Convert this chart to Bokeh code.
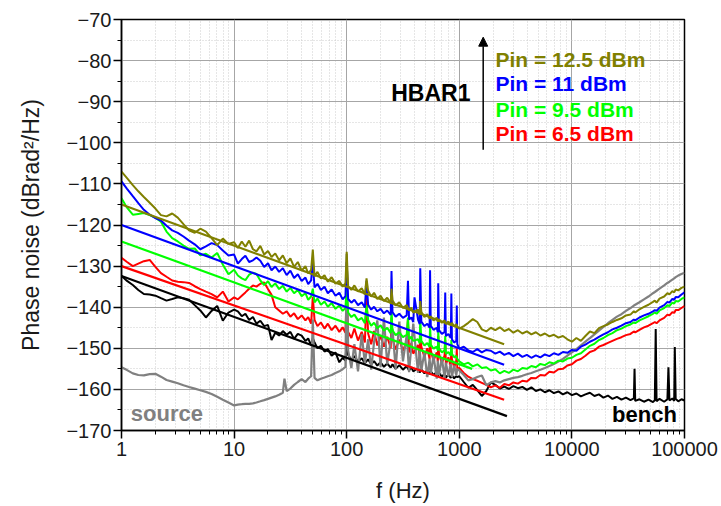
from bokeh.plotting import figure
from bokeh.models import FixedTicker, NumeralTickFormatter, Arrow, NormalHead, Label
from bokeh.embed import file_html
from bokeh.resources import INLINE

# ---------------- data ----------------
# shared frequency grid (Hz)
F = ([1, 1.12, 1.26, 1.41, 1.58, 1.78, 2, 2.24, 2.51, 2.82, 3.16, 3.55, 3.98, 4.47, 5.01, 5.62, 6.31, 7.08, 7.94, 8.91]
     + [10, 10.8, 11.7, 12.6, 13.6, 14.7, 15.8, 17.1, 18.5, 20, 21.5, 23.2, 25.1, 27.1, 29.3, 31.6, 34.1, 36.8, 39.8, 43,
        45.5, 48.3, 51.8, 55, 59, 63.5, 68, 73.5, 79.5, 86, 92, 97.5]
     + [103, 110, 117, 126, 136, 145, 155, 165, 175, 187, 200, 214, 229, 246, 255, 272, 293, 316, 341, 358,
        375, 390, 430, 445, 460, 490, 520, 545, 558, 590, 630, 645, 660, 700, 740, 760, 800, 840, 860, 900, 940, 960]
     + [1000, 1096, 1202, 1318, 1445, 1585, 1738, 1905, 2089, 2291, 2512, 2754, 3020, 3311, 3631, 3981, 4365, 4786,
        5248, 5754, 6310, 6918, 7586, 8318, 9120, 10000, 10965, 12023, 13183, 14454, 15849, 17378, 19055, 20893,
        22909, 25119, 27542, 30200, 33113, 35500, 36500, 39811, 43652, 47863, 52481, 54500, 56500, 60000, 66000,
        70500, 73500, 78000, 81000, 83500, 88000, 94000, 100000])

# Pin = 12.5 dBm (olive)
PIN125 = ([-107.0, -108.6, -110.3, -111.8, -113.2, -114.6, -116.0, -117.6, -117.9, -117.2, -118.2, -119.8, -121.3,
           -121.9, -120.9, -121.6, -123.2, -124.9, -123.3, -124.6]
          + [-124.2, -125.6, -124.0, -125.3, -123.8, -125.9, -126.4, -125.1, -127.2, -126.3, -127.8, -126.9, -128.6,
             -127.4, -129.3, -128.1, -130.2, -129.0, -131.1, -130.0, -131.8, -130.9, -132.5, -131.4, -133.0, -132.2,
             -133.8, -132.7, -134.3, -133.6, -135.0, -134.2]
          + [-134.9, -135.8, -134.7, -136.2, -135.4, -136.9, -136.0, -137.4, -136.5, -138.0, -137.2, -138.5, -137.7,
             -139.0, -138.3, -139.6, -138.8, -140.2, -139.5, -140.8, -140.1, -141.3, -140.6, -141.9, -141.2, -142.4,
             -141.7, -142.8, -142.2, -143.2, -142.6, -143.5, -142.9, -143.8, -143.2, -144.1, -143.5, -144.4, -143.8,
             -144.7, -144.1, -144.8]
          + [-145.2, -144.6, -143.8, -142.9, -143.6, -145.4, -145.9, -145.0, -145.6, -144.9, -145.8, -145.3, -146.2,
             -145.6, -146.4, -145.9, -146.6, -146.1, -146.9, -146.4, -147.1, -146.7, -147.4, -147.0, -147.8, -148.4,
             -147.5, -148.2, -147.0, -145.9, -146.3, -145.1, -144.6, -144.2, -143.6, -143.1, -142.7, -142.0, -141.8,
             -141.0, -141.3, -140.5, -139.9, -139.4, -138.7, -138.4, -138.9, -137.9, -137.4, -136.6, -136.9, -136.1,
             -136.4, -135.7, -135.9, -135.3, -135.0])
PIN125_SPK_F = [50, 100, 150, 250, 450]
PIN125_SPK_V = [-126.0, -126.5, -133.0, -135.5, -138.5]

# Pin = 11 dBm (blue)
PIN11 = ([-109.4, -111.2, -113.0, -114.7, -116.3, -117.5, -118.3, -118.9, -120.2, -121.3, -121.9, -122.8, -123.8,
          -124.7, -125.9, -125.2, -124.4, -124.9, -126.2, -127.4]
         + [-127.2, -129.4, -128.3, -127.5, -129.0, -128.6, -127.9, -128.7, -130.2, -129.3, -131.0, -130.1, -131.4,
            -130.5, -132.2, -131.1, -132.9, -132.0, -133.6, -132.8, -134.4, -133.5, -135.2, -134.3, -135.8, -135.0,
            -136.6, -135.7, -137.2, -136.5, -138.1, -137.3]
         + [-138.0, -138.9, -138.2, -139.5, -138.8, -140.1, -139.4, -140.6, -139.9, -141.0, -140.4, -141.5, -140.8,
            -141.9, -141.2, -142.3, -141.6, -142.6, -142.0, -143.0, -142.5, -143.6, -143.0, -144.1, -143.5, -144.6,
            -144.0, -145.0, -144.5, -145.5, -145.0, -146.1, -145.6, -146.5, -146.0, -147.0, -146.5, -147.5, -147.8,
            -148.6, -148.2, -149.0]
         + [-150.1, -149.6, -150.5, -150.9, -150.2, -151.0, -150.4, -150.6, -151.3, -150.8, -151.6, -151.1, -151.9,
            -151.3, -152.1, -151.6, -152.3, -151.7, -152.2, -151.5, -151.9, -151.2, -151.6, -150.9, -151.1, -150.4,
            -150.6, -149.6, -149.1, -148.4, -147.9, -147.2, -146.6, -146.1, -145.4, -145.0, -144.5, -143.9, -143.6,
            -143.0, -143.2, -142.5, -142.0, -141.6, -141.0, -140.7, -140.9, -140.1, -139.5, -138.7, -138.9, -138.0,
            -138.2, -137.5, -137.6, -136.9, -136.4])
PIN11_SPK_F = [50, 100, 150, 250, 350, 400, 450, 550, 650, 750, 850, 950]
PIN11_SPK_V = [-129.0, -129.0, -133.6, -131.2, -133.6, -137.6, -130.5, -131.0, -134.2, -136.4, -136.7, -139.6]

# Pin = 9.5 dBm (green)
PIN95 = ([-113.5, -115.8, -117.5, -117.3, -117.1, -117.6, -118.2, -119.2, -121.6, -123.2, -124.0, -125.0, -125.8,
          -125.7, -127.4, -127.0, -127.9, -126.8, -129.6, -132.0]
         + [-130.9, -132.3, -133.0, -133.4, -132.1, -131.6, -131.9, -133.5, -134.6, -133.7, -135.1, -134.2, -135.6,
            -134.8, -136.2, -135.3, -136.6, -135.8, -137.3, -136.6, -138.2, -137.4, -138.8, -137.9, -139.4, -138.6,
            -139.9, -139.0, -140.4, -139.6, -140.9, -140.2]
         + [-141.3, -142.4, -141.8, -143.2, -142.6, -143.9, -143.1, -144.5, -143.8, -145.1, -144.4, -145.7, -145.0,
            -146.3, -145.6, -146.8, -146.1, -147.3, -146.7, -147.8, -147.2, -148.2, -147.8, -148.8, -148.2, -149.3,
            -148.7, -149.7, -149.1, -150.1, -149.6, -150.6, -150.0, -151.0, -150.5, -151.4, -150.9, -151.8, -151.3,
            -152.2, -151.8, -152.6]
         + [-153.2, -153.9, -153.5, -154.4, -153.9, -154.8, -154.6, -155.4, -155.1, -156.1, -155.5, -156.0, -155.2,
            -155.6, -154.8, -155.0, -154.3, -154.6, -153.8, -154.1, -153.4, -153.7, -153.0, -153.2, -152.5, -152.3,
            -151.6, -151.2, -150.3, -149.4, -148.9, -148.0, -147.5, -146.8, -146.3, -145.6, -145.2, -144.6, -144.2,
            -143.7, -143.9, -143.2, -142.7, -142.2, -141.6, -141.3, -141.6, -140.8, -140.2, -139.5, -139.7, -138.9,
            -139.1, -138.5, -138.6, -138.0, -137.6])
PIN95_SPK_F = [50, 100, 150, 250, 350, 450, 550, 650, 750, 850]
PIN95_SPK_V = [-135.5, -134.5, -139.5, -140.5, -142.5, -142.5, -144.0, -145.5, -147.0, -148.0]

# Pin = 6.5 dBm (red)
PIN65 = ([-128.0, -129.0, -130.0, -129.4, -128.8, -128.5, -130.2, -131.7, -132.6, -133.5, -133.8, -133.9, -134.1,
          -134.9, -135.6, -136.2, -136.8, -137.6, -136.2, -138.6]
         + [-137.6, -138.1, -137.2, -136.4, -135.5, -134.7, -135.0, -134.3, -134.0, -135.6, -137.0, -140.0, -140.8,
            -141.6, -141.0, -142.3, -141.5, -142.9, -142.0, -143.2, -142.4, -144.0, -143.1, -144.6, -143.7, -145.2,
            -144.0, -145.6, -144.5, -146.0, -144.9, -146.2]
         + [-146.0, -147.5, -145.2, -148.1, -146.0, -148.6, -146.4, -149.0, -145.8, -149.3, -146.9, -149.6, -147.2,
            -150.0, -147.6, -150.3, -147.9, -150.6, -148.2, -151.0, -148.7, -151.3, -149.2, -151.8, -149.6, -152.1,
            -150.0, -152.6, -150.5, -153.0, -151.0, -153.3, -151.3, -153.7, -151.7, -154.0, -152.2, -154.4, -152.6,
            -154.7, -153.0, -155.0]
         + [-154.8, -156.0, -156.9, -157.5, -157.9, -158.4, -158.9, -159.5, -159.0, -159.6, -158.7, -159.0, -158.3,
            -158.6, -157.9, -158.1, -157.2, -157.3, -156.5, -156.6, -155.7, -155.9, -155.1, -155.0, -154.2, -153.9,
            -153.0, -152.6, -151.8, -150.9, -150.5, -149.6, -149.2, -148.7, -148.2, -147.7, -147.3, -146.8, -146.5,
            -145.9, -146.1, -145.5, -144.9, -144.5, -143.9, -143.6, -143.9, -143.2, -142.6, -141.8, -142.0, -141.2,
            -141.4, -140.7, -140.7, -140.2, -139.7])
PIN65_SPK_F = [50, 100, 150, 250, 350, 450, 550, 650, 750, 850, 950]
PIN65_SPK_V = [-137.5, -136.5, -137.0, -142.5, -142.9, -145.7, -146.5, -147.0, -148.0, -149.0, -150.0]

# bench (black)
BENCH = ([-132.4, -133.6, -134.6, -135.8, -136.8, -136.9, -137.2, -137.8, -138.4, -138.0, -137.6, -137.8, -138.2,
          -139.5, -140.8, -142.5, -140.9, -139.7, -143.3, -141.3]
         + [-140.6, -141.0, -142.2, -141.6, -143.1, -142.4, -144.0, -143.3, -144.6, -144.3, -148.0, -146.2, -146.9,
            -145.8, -146.7, -146.0, -147.7, -146.5, -146.9, -148.2, -147.6, -149.3, -148.6, -150.0, -149.4, -150.8,
            -150.2, -151.8, -151.0, -153.4, -152.3, -153.0]
         + [-151.6, -152.8, -151.9, -153.3, -152.4, -153.6, -152.7, -153.9, -153.1, -154.2, -153.4, -154.5, -153.7,
            -154.7, -153.9, -155.0, -154.1, -155.2, -154.3, -155.4, -154.6, -155.6, -154.8, -155.9, -155.1, -156.1,
            -155.3, -156.3, -155.6, -156.5, -155.8, -156.7, -156.0, -156.9, -156.2, -157.1, -156.4, -157.2, -156.6,
            -157.3, -156.8, -157.0]
         + [-156.8, -158.2, -159.6, -158.9, -160.2, -161.6, -160.4, -158.3, -158.9, -159.8, -159.3, -159.9, -159.2,
            -159.7, -159.4, -160.1, -159.5, -160.4, -160.0, -160.7, -160.2, -160.9, -160.5, -161.2, -160.7, -161.4,
            -161.0, -161.7, -161.2, -160.8, -161.6, -161.2, -162.0, -161.5, -162.3, -161.8, -162.5, -162.0, -162.6,
            -162.2, -162.8, -162.4, -163.0, -162.5, -163.1, -162.6, -162.9, -162.3, -163.0, -162.4, -162.7, -162.2,
            -162.8, -162.3, -162.9, -162.4, -162.7])
BENCH_SPK_F = [50, 100, 36000, 55500, 72000, 82000]
BENCH_SPK_V = [-147.5, -148.0, -155.0, -145.3, -154.6, -149.7]

# source (gray)
SOURCE = ([-154.6, -155.3, -156.1, -156.5, -156.6, -156.3, -156.2, -156.9, -157.7, -158.1, -158.5, -159.0, -159.4,
           -159.8, -160.2, -160.6, -161.1, -161.8, -162.5, -163.2]
          + [-163.9, -163.7, -163.6, -163.5, -163.5, -163.4, -163.2, -162.9, -162.6, -162.3, -162.0, -161.7, -161.3,
             -160.8, -160.4, -159.8, -158.9, -158.2, -157.5, -158.2, -157.4, -156.8, -157.2, -157.8, -157.4, -157.1,
             -156.8, -156.5, -156.0, -155.6, -155.1, -154.5]
          + [-150.5, -154.8, -149.0, -155.6, -146.5, -153.8, -147.8, -155.2, -148.5, -143.2, -154.6, -142.5, -153.9,
             -148.0, -145.2, -155.0, -143.5, -153.2, -146.8, -155.8, -149.5, -144.0, -156.0, -150.2, -155.4, -151.0,
             -157.0, -152.5, -156.2, -151.8, -157.4, -153.0, -156.5, -152.4, -157.2, -153.5, -156.8, -153.8, -157.0,
             -154.2, -156.5, -155.0]
          + [-155.4, -156.5, -157.8, -157.5, -157.0, -156.6, -159.0, -158.3, -158.0, -158.3, -157.8, -157.5, -157.2,
             -157.0, -156.7, -156.3, -156.0, -155.6, -155.2, -154.8, -154.3, -153.8, -153.2, -152.6, -151.8, -151.0,
             -150.2, -149.3, -148.4, -147.5, -146.6, -145.7, -144.8, -143.9, -143.1, -142.3, -141.7, -140.9, -140.2,
             -139.6, -139.4, -138.8, -138.1, -137.4, -136.6, -136.3, -136.0, -135.5, -134.7, -134.1, -133.8, -133.3,
             -133.0, -132.7, -132.3, -131.9, -131.6])
SOURCE_SPK_F = [28, 50, 100]
SOURCE_SPK_V = [-157.4, -143.0, -127.0]

# 1/f fit lines: [start f, end f], [start dB, end dB]
FIT125_F, FIT125_V = [1, 2500], [-115.0, -149.0]
FIT11_F, FIT11_V = [1, 2500], [-120.0, -154.0]
FIT95_F, FIT95_V = [1, 1300], [-124.0, -155.0]
FIT65_F, FIT65_V = [1, 2500], [-130.0, -162.5]
FITB_F, FITB_V = [1, 2650], [-132.4, -166.5]

X_TICKS = [1, 10, 100, 1000, 10000, 100000]
Y_TICKS = [-170, -160, -150, -140, -130, -120, -110, -100, -90, -80, -70]
Y_MINOR = [-165, -155, -145, -135, -125, -115, -105, -95, -85, -75]

for arr in (PIN125, PIN11, PIN95, PIN65, BENCH, SOURCE):
    assert len(arr) == len(F), (len(arr), len(F))


def merged(base, spk_f, spk_v):
    pts = sorted(list(zip(F, base)) + list(zip(spk_f, spk_v)))
    return [a for a, _ in pts], [b for _, b in pts]


# ---------------- figure ----------------
FONT = "Liberation Sans"
p = figure(width=718, height=505, x_axis_type="log", x_range=(1, 100000), y_range=(-170, -70),
           output_backend="svg", toolbar_location=None,
           min_border_left=121, min_border_right=34, min_border_top=19, min_border_bottom=73)
p.background_fill_color = "white"
p.border_fill_color = "white"
p.outline_line_color = "black"
p.outline_line_width = 1.5

x_minor = [m * d for d in X_TICKS[:-1] for m in range(2, 10)]
xt = FixedTicker(ticks=X_TICKS, minor_ticks=x_minor)
yt = FixedTicker(ticks=Y_TICKS, minor_ticks=Y_MINOR)
p.xaxis.ticker = xt
p.yaxis.ticker = yt
p.xgrid.ticker = xt
p.ygrid.ticker = yt
p.xaxis.formatter = NumeralTickFormatter(format="0")

p.grid.grid_line_color = "#a6a6a6"
p.grid.grid_line_width = 1
p.grid.minor_grid_line_color = "#cccccc"
p.grid.minor_grid_line_dash = "1 2"
p.grid.minor_grid_line_width = 1

for ax in (p.xaxis[0], p.yaxis[0]):
    ax.axis_line_color = "black"
    ax.axis_line_width = 1.5
    ax.major_tick_line_color = "black"
    ax.major_tick_line_width = 1.5
    ax.minor_tick_line_color = "black"
    ax.minor_tick_line_width = 1
    ax.major_tick_in = 0
    ax.major_tick_out = 8
    ax.minor_tick_in = 0
    ax.minor_tick_out = 4
    ax.major_label_text_font = FONT
    ax.major_label_text_font_size = "20px"
    ax.major_label_text_color = "#1a1a1a"
    ax.axis_label_text_font = FONT
    ax.axis_label_text_font_style = "normal"
    ax.axis_label_text_color = "#1a1a1a"

p.xaxis.axis_label = "f (Hz)"
p.xaxis.axis_label_text_font_size = "22px"
p.xaxis.major_label_standoff = 3
p.xaxis.axis_label_standoff = 19
p.yaxis.axis_label = "Phase noise (dBrad²/Hz)"
p.yaxis.axis_label_text_font_size = "23px"
p.yaxis.major_label_standoff = 2
p.yaxis.axis_label_standoff = 19

# measured curves
fx, fy = merged(BENCH, BENCH_SPK_F, BENCH_SPK_V)
p.line(fx, fy, line_color="black", line_width=2)
fx, fy = merged(PIN65, PIN65_SPK_F, PIN65_SPK_V)
p.line(fx, fy, line_color="#ff0000", line_width=2)
fx, fy = merged(SOURCE, SOURCE_SPK_F, SOURCE_SPK_V)
p.line(fx, fy, line_color="#808080", line_width=2.2)
fx, fy = merged(PIN95, PIN95_SPK_F, PIN95_SPK_V)
p.line(fx, fy, line_color="#00ff00", line_width=2)
fx, fy = merged(PIN11, PIN11_SPK_F, PIN11_SPK_V)
p.line(fx, fy, line_color="#0000ff", line_width=2)
fx, fy = merged(PIN125, PIN125_SPK_F, PIN125_SPK_V)
p.line(fx, fy, line_color="#808000", line_width=2)

# fit lines
p.line(FITB_F, FITB_V, line_color="black", line_width=2.2)
p.line(FIT65_F, FIT65_V, line_color="#ff0000", line_width=2.2)
p.line(FIT95_F, FIT95_V, line_color="#00ff00", line_width=2.2)
p.line(FIT11_F, FIT11_V, line_color="#0000ff", line_width=2.2)
p.line(FIT125_F, FIT125_V, line_color="#808000", line_width=2.2)

# annotations
p.add_layout(Arrow(end=NormalHead(size=9, fill_color="black", line_color="black"),
                   x_start=1630, y_start=-101.7, x_end=1630, y_end=-74.3,
                   line_color="black", line_width=1.5))


def lab(x, y, text, color, size="21px", align="left"):
    p.add_layout(Label(x=x, y=y, text=text, text_color=color, text_font=FONT, text_font_size=size,
                       text_font_style="bold", text_align=align, text_baseline="middle"))


lab(1257, -87.9, "HBAR1", "black", size="23px", align="right")
lab(2095, -79.7, "Pin = 12.5 dBm", "#808000")
lab(2095, -85.6, "Pin = 11 dBm", "#0000ff")
lab(2095, -91.8, "Pin = 9.5 dBm", "#00ff00")
lab(2095, -97.7, "Pin = 6.5 dBm", "#ff0000")
lab(1.21, -165.9, "source", "#808080", size="22px")
lab(22750, -166.0, "bench", "black", size="22px")

open("out.html", "w").write(file_html(p, INLINE))
